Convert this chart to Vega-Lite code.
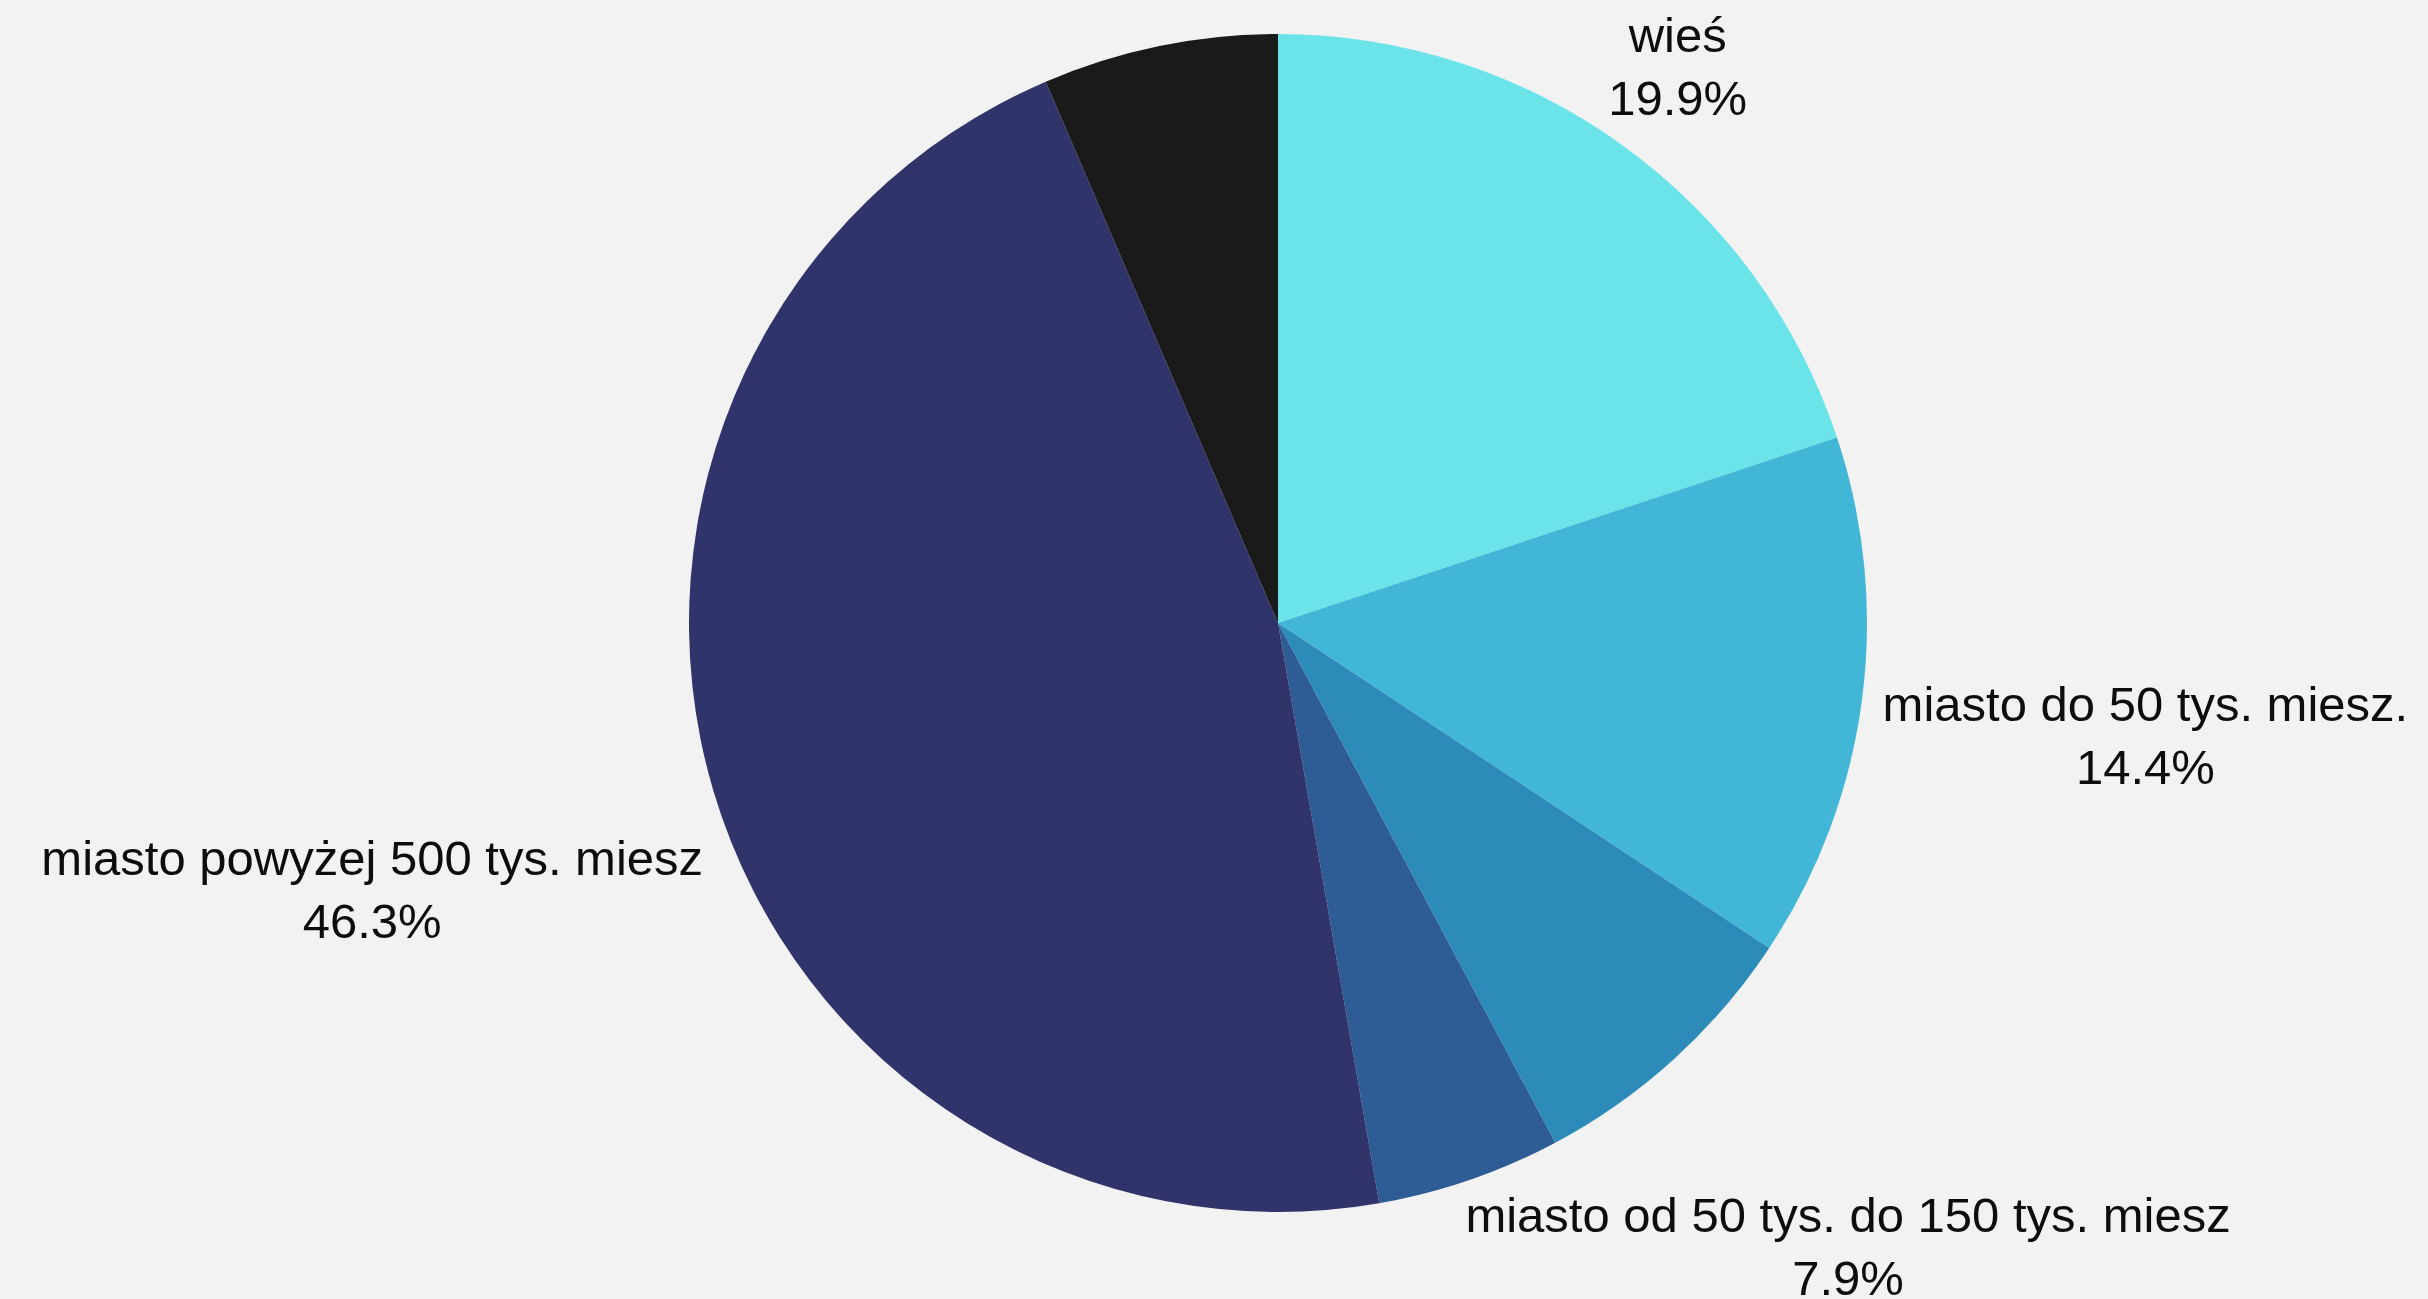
{
  "$schema": "https://vega.github.io/schema/vega-lite/v6.json",
  "width": 2300,
  "height": 1246,
  "autosize": {"type": "none"},
  "padding": {"left": 128, "top": 0, "right": 0, "bottom": 53},
  "background": "#f2f2f2",
  "config": {"view": {"stroke": null}},
  "data": {
    "values": [
      {"i": 1, "cat": "wieś", "share": 19.9},
      {"i": 2, "cat": "miasto do 50 tys. miesz.", "share": 14.4},
      {"i": 3, "cat": "miasto od 50 tys. do 150 tys. miesz", "share": 7.9},
      {"i": 4, "cat": "miasto od 150 tys. do 500 tys. miesz", "share": 5.05},
      {"i": 5, "cat": "miasto powyżej 500 tys. miesz", "share": 46.3},
      {"i": 6, "cat": "brak odpowiedzi", "share": 6.45}
    ]
  },
  "transform": [
    {"calculate": "datum.cat + '\\n' + format(datum.share, '.1f') + '%'", "as": "label"}
  ],
  "encoding": {
    "theta": {"field": "share", "type": "quantitative", "stack": true},
    "order": {"field": "i", "type": "quantitative", "sort": "ascending"}
  },
  "layer": [
    {
      "mark": {"type": "arc", "radius": 589},
      "encoding": {
        "color": {
          "field": "cat",
          "type": "nominal",
          "legend": null,
          "scale": {
            "domain": ["wieś", "miasto do 50 tys. miesz.", "miasto od 50 tys. do 150 tys. miesz", "miasto od 150 tys. do 500 tys. miesz", "miasto powyżej 500 tys. miesz", "brak odpowiedzi"],
            "range": ["#6ae4e8", "#42b6d6", "#2d8bb9", "#2e5c94", "#30346a", "#1a1a1a"]
          }
        }
      }
    },
    {
      "mark": {"type": "text", "radius": 683, "dy": -32, "align": "center", "baseline": "middle", "font": "Liberation Sans", "fontSize": 49, "lineHeight": 63, "lineBreak": "\n", "color": "#0d0d0d"},
      "encoding": {"text": {"condition": {"test": "datum.i === 1", "field": "label"}, "value": ""}}
    },
    {
      "mark": {"type": "text", "radius": 875, "dy": -32, "align": "center", "baseline": "middle", "font": "Liberation Sans", "fontSize": 49, "lineHeight": 63, "lineBreak": "\n", "color": "#0d0d0d"},
      "encoding": {"text": {"condition": {"test": "datum.i === 2", "field": "label"}, "value": ""}}
    },
    {
      "mark": {"type": "text", "radius": 847, "dy": -32, "align": "center", "baseline": "middle", "font": "Liberation Sans", "fontSize": 49, "lineHeight": 63, "lineBreak": "\n", "color": "#0d0d0d"},
      "encoding": {"text": {"condition": {"test": "datum.i === 3", "field": "label"}, "value": ""}}
    },
    {
      "mark": {"type": "text", "radius": 945, "dy": -32, "align": "center", "baseline": "middle", "font": "Liberation Sans", "fontSize": 49, "lineHeight": 63, "lineBreak": "\n", "color": "#0d0d0d"},
      "encoding": {"text": {"condition": {"test": "datum.i === 5", "field": "label"}, "value": ""}}
    }
  ]
}
